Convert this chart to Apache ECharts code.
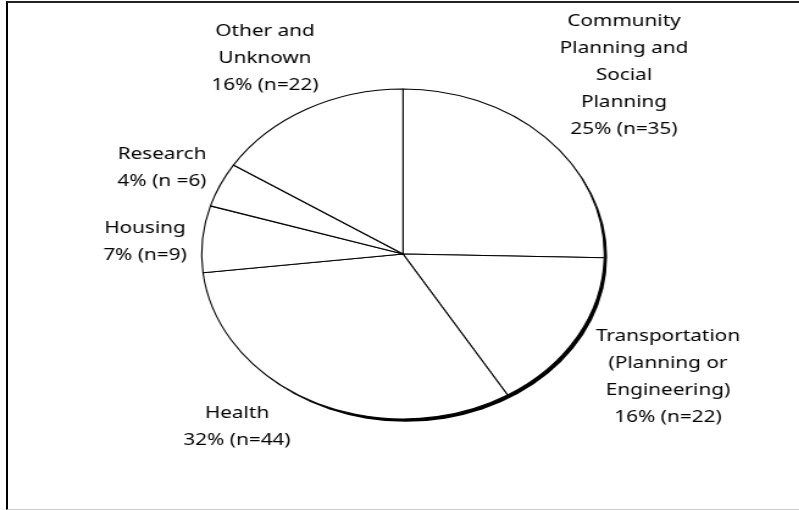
<!DOCTYPE html>
<html>
<head>
<meta charset="utf-8">
<script src="https://cdn.jsdelivr.net/npm/echarts@6/dist/echarts.min.js"></script>
<style>
  html, body { margin: 0; padding: 0; background: #fff; overflow: hidden; }
  #wrap { position: relative; width: 799px; height: 510px; overflow: hidden; }
  #chart { position: absolute; left: 0; top: 0; width: 655px; height: 510px;
           transform: scaleX(1.22); transform-origin: 0 0; }
  #frame { position: absolute; left: 6px; top: 1px; width: 820px; height: 509px;
           box-sizing: border-box; border-top: 2px solid #222; border-left: 2px solid #000;
           border-bottom: 1px solid #ccc; pointer-events: none; }
</style>
</head>
<body>
<div id="wrap">
  <div id="chart"></div>
  <div id="frame"></div>
</div>
<script>
const categories = [
  'Community\nPlanning and\nSocial\nPlanning',
  'Transportation\n(Planning or\nEngineering)',
  'Health',
  'Housing',
  'Research',
  'Other and\nUnknown'
];
const counts = [35, 22, 44, 9, 6, 22];
const nPrefix = ['n=', 'n=', 'n=', 'n=', 'n =', 'n='];

const total = counts.reduce((a, b) => a + b, 0);
const pieData = categories.map((c, i) => ({ name: c, value: counts[i] }));

// label anchor points (chart pixel space, before horizontal stretch)
const SX = 1.22;
const labelAnchors = [
  [624 / SX, 75], [668 / SX, 377], [237 / SX, 427],
  [145 / SX, 242], [162 / SX, 168], [265 / SX, 58]
];

const chart = echarts.init(document.getElementById('chart'), null, { renderer: 'canvas' });
chart.setOption({
  animation: false,
  backgroundColor: 'transparent',
  series: [
    {
      type: 'pie',
      silent: true,
      center: [403 / SX, 254],
      radius: [0, 165],
      startAngle: 90,
      label: { show: false },
      labelLine: { show: false },
      itemStyle: {
        color: '#fff', borderWidth: 0,
        shadowColor: '#000', shadowBlur: 0, shadowOffsetX: 2.3, shadowOffsetY: 2.8
      },
      data: [{ name: 'total', value: total }]
    },
    {
      type: 'pie',
      center: [403 / SX, 254],
      radius: [0, 165],
      startAngle: 90,
      clockwise: true,
      percentPrecision: 0,
      avoidLabelOverlap: false,
      itemStyle: { color: '#fff', borderColor: '#000', borderWidth: 1.1 },
      emphasis: { disabled: true },
      label: {
        show: true,
        position: 'outside',
        fontFamily: 'Noto Sans',
        fontSize: 17,
        lineHeight: 27,
        color: '#000',
        align: 'center',
        formatter: p => p.name + '\n' + p.percent + '% (' + nPrefix[p.dataIndex] + p.value + ')'
      },
      labelLine: { show: false },
      labelLayout: function (params) {
        const a = labelAnchors[params.dataIndex];
        return { x: a[0], y: a[1], align: 'center', verticalAlign: 'middle', hideOverlap: false };
      },
      data: pieData
    }
  ]
});
</script>
</body>
</html>
